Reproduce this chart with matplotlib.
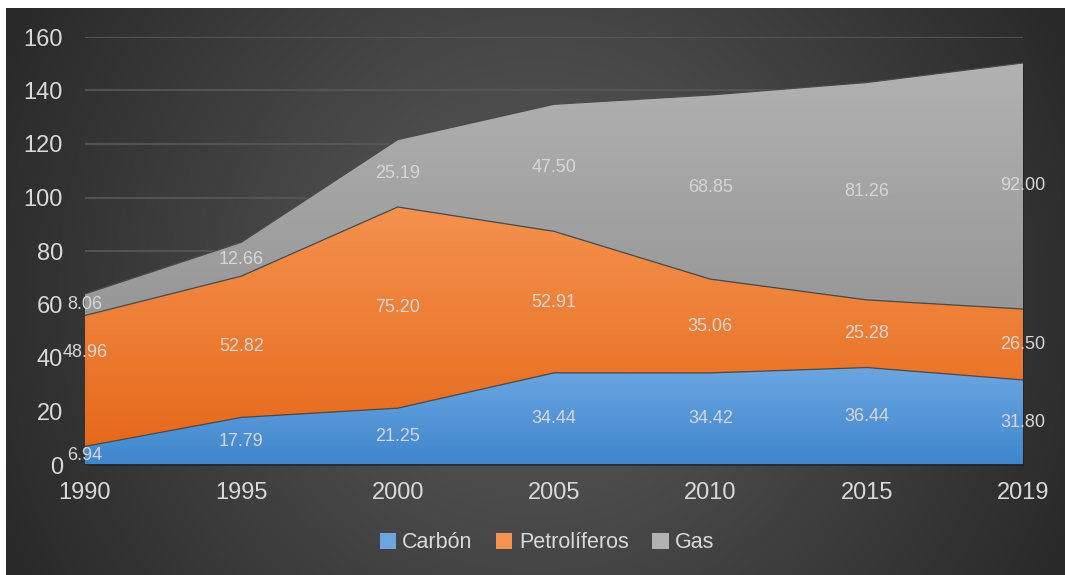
import numpy as np
import matplotlib.pyplot as plt
import matplotlib.transforms as mtransforms
from matplotlib.colors import LinearSegmentedColormap

plt.rcParams['font.family'] = ['Liberation Sans', 'DejaVu Sans']

years = ['1990', '1995', '2000', '2005', '2010', '2015', '2019']
carbon = [6.94, 17.79, 21.25, 34.44, 34.42, 36.44, 31.80]
petroleo = [48.96, 52.82, 75.20, 52.91, 35.06, 25.28, 26.50]
gas = [8.06, 12.66, 25.19, 47.50, 68.85, 81.26, 92.00]
names = ['Carbón', 'Petrolíferos', 'Gas']

# top / bottom colours of each band's gradient
grads = [('#6ba6e1', '#3f86cd'), ('#f4924f', '#e6691b'), ('#b2b2b2', '#979797')]
W, H = 1065, 575
fig = plt.figure(figsize=(W / 100, H / 100), dpi=100)
fig.patch.set_facecolor('white')

# dark radial background panel
bg = fig.add_axes([6 / W, 0, 1 - 6 / W, (H - 8) / H], zorder=-10)
bw, bh = W - 6, H - 8
xx, yy = np.meshgrid(np.arange(bw), np.arange(bh))
d = np.hypot(xx - 530, yy - 285)
t = np.clip((d - 200) / 390, 0, 1)
g = (76 - 35 * t) / 255
bg.imshow(np.dstack([g, g, g]), aspect='auto', extent=[0, 1, 0, 1])
bg.axis('off')

ax = fig.add_axes([85 / W, 110 / H, 938 / W, 428 / H])
ax.set_facecolor('none')
x = np.arange(len(years))
ax.set_xlim(0, len(years) - 1)
ax.set_ylim(0, 160)
ax.set_yticks(np.arange(0, 161, 20))
ax.set_xticks(x)
ax.set_xticklabels(years)
ax.grid(axis='y', color='#575757', lw=1.3, zorder=0)
ax.set_axisbelow(True)
for s in ax.spines.values():
    s.set_visible(False)
ax.tick_params(length=0, colors='#d9d9d9', labelsize=17)
ax.tick_params(axis='y', pad=16)
ax.tick_params(axis='x', pad=12)

series = [carbon, petroleo, gas]
cum = np.zeros(len(years))
total = np.sum(series, axis=0)

# shadow under the whole stack
shadow = mtransforms.offset_copy(ax.transData, fig=fig, x=2.5, y=-1.5, units='points')
ax.fill_between(x, 0, total, color='#1c1c1c', alpha=0.6, lw=0, zorder=1,
                transform=shadow)

for i, vals in enumerate(series):
    lo = cum.copy()
    hi = cum + np.array(vals)
    poly = ax.fill_between(x, lo, hi, facecolor='none', lw=0, zorder=2)
    cmap = LinearSegmentedColormap.from_list('g%d' % i, [grads[i][1], grads[i][0]])
    grad = np.linspace(0, 1, 256).reshape(-1, 1)
    img = ax.imshow(grad, cmap=cmap, origin='lower', aspect='auto',
                    extent=[0, len(years) - 1, lo.min(), hi.max()], zorder=2)
    img.set_clip_path(poly.get_paths()[0], transform=ax.transData)
    ax.plot(x, hi, color='#4a4a4a', lw=0.9, zorder=3)
    mid = (lo + hi) / 2
    for j, v in enumerate(vals):
        y = mid[j]
        if i == 1 and j == 0:
            y += 10.5
        ax.text(x[j], y, '%.2f' % v, ha='center', va='center', fontsize=13,
                color='#d6d6d6', zorder=5)
    cum = hi

ax.axhline(0, color='#222222', lw=2, zorder=4)
ax.set_xlim(0, len(years) - 1)
ax.set_ylim(0, 160)

handles = [plt.Rectangle((0, 0), 1, 1, facecolor=grads[i][0]) for i in range(3)]
fig.legend(handles, names, loc='center', bbox_to_anchor=(547 / W, 1 - 543 / H),
           ncol=3, frameon=False, fontsize=15.5, labelcolor='#d9d9d9',
           handlelength=0.75, handleheight=0.75, handletextpad=0.3,
           columnspacing=1.1)

fig.savefig('out.png', dpi=100)
